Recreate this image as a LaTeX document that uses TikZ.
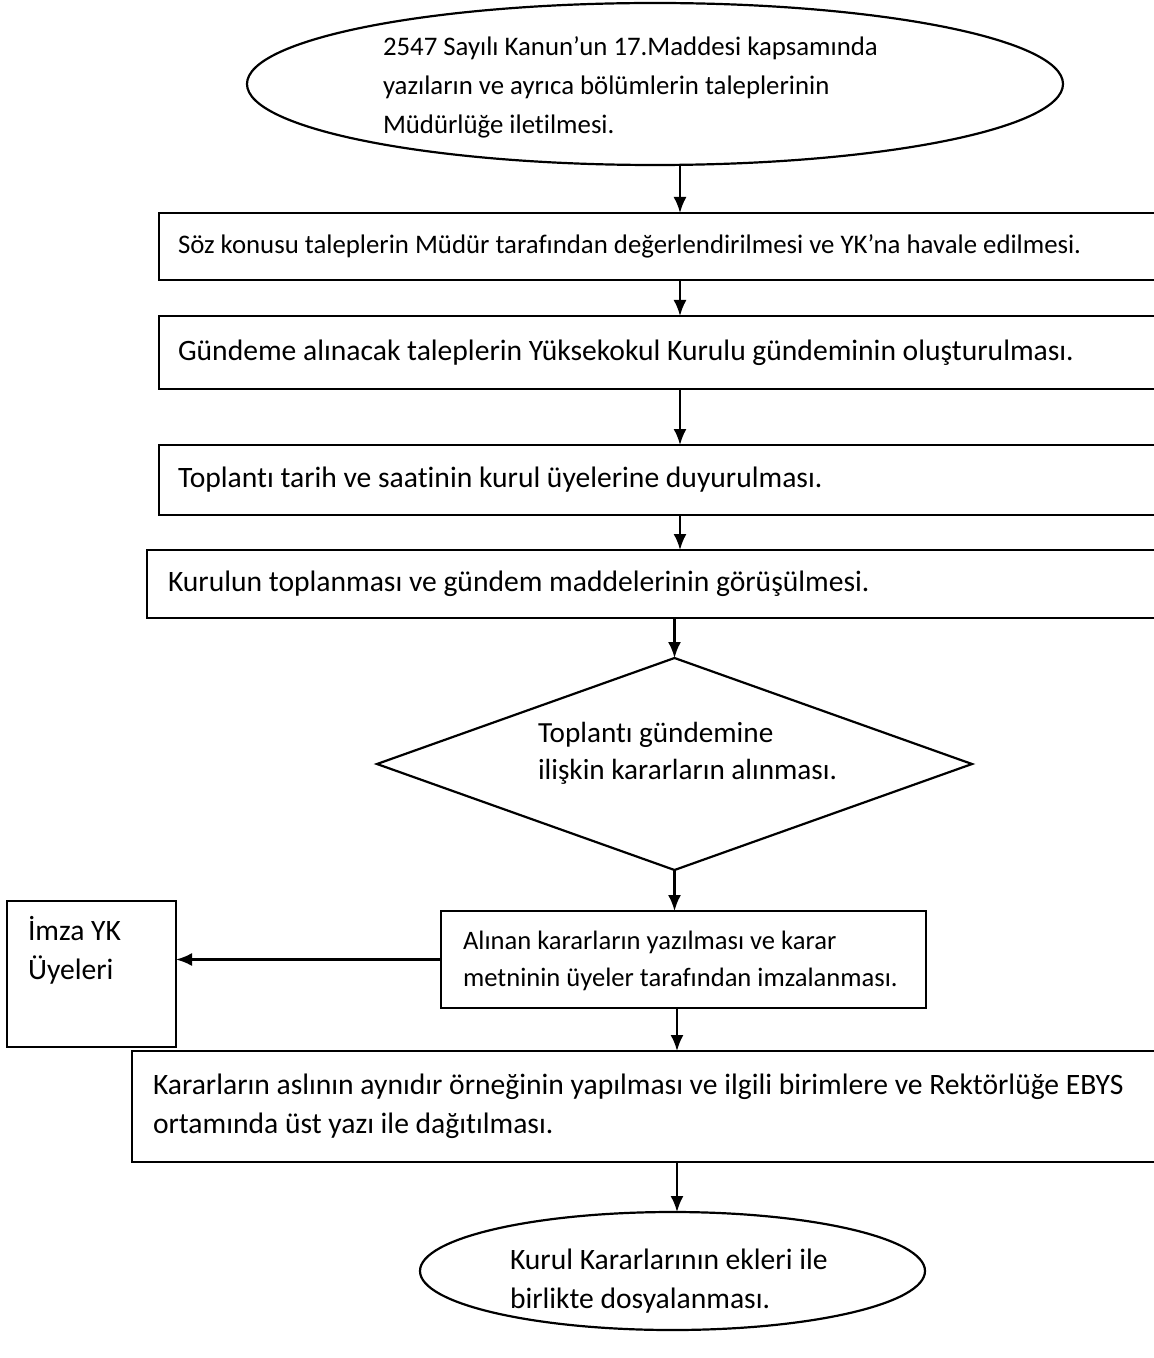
\documentclass[tikz,border=0pt]{standalone}
\usepackage{fontspec}
\setmainfont{Carlito}[Ligatures=NoCommon]
\usetikzlibrary{shapes.geometric,arrows.meta}
\begin{document}
\begin{tikzpicture}[x=0.5pt,y=-0.5pt,
  every node/.style={inner sep=0pt, outer sep=0pt},
  shp/.style={draw, line width=1.1pt},
  box/.style={shp, rectangle, anchor=north west, align=flush left, text width=540pt},
  arr/.style={line width=1.1pt, -{Latex[length=8pt,width=6.5pt]}},
  big/.style={font=\fontsize{14.8}{19.5}\selectfont},
  bigt/.style={font=\fontsize{14.6}{18.5}\selectfont},
  small/.style={font=\fontsize{13.4}{19.5}\selectfont},
  smallt/.style={font=\fontsize{13.3}{18.5}\selectfont},
  txt/.style={anchor=west, align=left}]
\fill[white] (0,0) rectangle (1154,1358);
\useasboundingbox (0,0) rectangle (1154,1358);
\clip (0,0) rectangle (1154,1358);
\coordinate (cx) at (680,0);
\coordinate (cy) at (677,0);
% top ellipse
\node[shp, ellipse, minimum width=408pt, minimum height=81pt] (e1) at (655,84) {};
\node[txt, small] (t1) at (383,87) {2547 Sayılı Kanun’un 17.Maddesi kapsamında\\yazıların ve ayrıca bölümlerin taleplerinin\\Müdürlüğe iletilmesi.};
% boxes
\node[box, small, inner xsep=9.5pt, minimum height=33.5pt] (b1) at (159,213) {Söz konusu taleplerin Müdür tarafından değerlendirilmesi ve YK’na havale edilmesi.};
\node[box, big, inner xsep=9.5pt, minimum height=36.5pt] (b2) at (159,316) {Gündeme alınacak taleplerin Yüksekokul Kurulu gündeminin oluşturulması.};
\node[box, big, inner xsep=9.5pt, minimum height=35pt] (b3) at (159,445) {Toplantı tarih ve saatinin kurul üyelerine duyurulması.};
\node[box, big, inner xsep=10.5pt, minimum height=34pt] (b4) at (147,550) {Kurulun toplanması ve gündem maddelerinin görüşülmesi.};
% diamond
\node[shp, diamond, minimum width=297.5pt, minimum height=106pt] (d) at (674.5,764) {};
\node[txt, bigt] (td) at (538,753.5) {Toplantı gündemine\\ilişkin kararların alınması.};
% box 5
\node[shp, rectangle, anchor=north west, minimum width=242.5pt, minimum height=48.5pt] (b5) at (441,911) {};
\node[txt, smallt] (t5) at (463,960.5) {Alınan kararların yazılması ve karar\\metninin üyeler tarafından imzalanması.};
% imza box
\node[shp, rectangle, anchor=north west, minimum width=84.5pt, minimum height=73pt] (im) at (7,901) {};
\node[txt, big] (tim) at (28,950.5) {İmza YK\\Üyeleri};
% box 6
\node[box, big, inner xsep=10.5pt, minimum height=55.5pt] (b6) at (132,1051) {Kararların aslının aynıdır örneğinin yapılması ve ilgili birimlere ve Rektörlüğe EBYS\\ortamında üst yazı ile dağıtılması.};
% bottom ellipse
\node[shp, ellipse, minimum width=252.5pt, minimum height=59pt] (e2) at (672.5,1271) {};
\node[txt, big] (t2) at (510,1281.5) {Kurul Kararlarının ekleri ile\\birlikte dosyalanması.};
% connectors
\draw[arr] (e1.south -| cx) -- (b1.north -| cx);
\draw[arr] (b1.south -| cx) -- (b2.north -| cx);
\draw[arr] (b2.south -| cx) -- (b3.north -| cx);
\draw[arr] (b3.south -| cx) -- (b4.north -| cx);
\draw[arr] (b4.south -| d.north) -- (d.north);
\draw[arr] (d.south) -- (d.south |- b5.north);
\draw[arr] (b5.west) -- (im.east |- b5.west);
\draw[arr] (b5.south -| cy) -- (b6.north -| cy);
\draw[arr] (b6.south -| cy) -- (e2.north -| cy);
\end{tikzpicture}
\end{document}
